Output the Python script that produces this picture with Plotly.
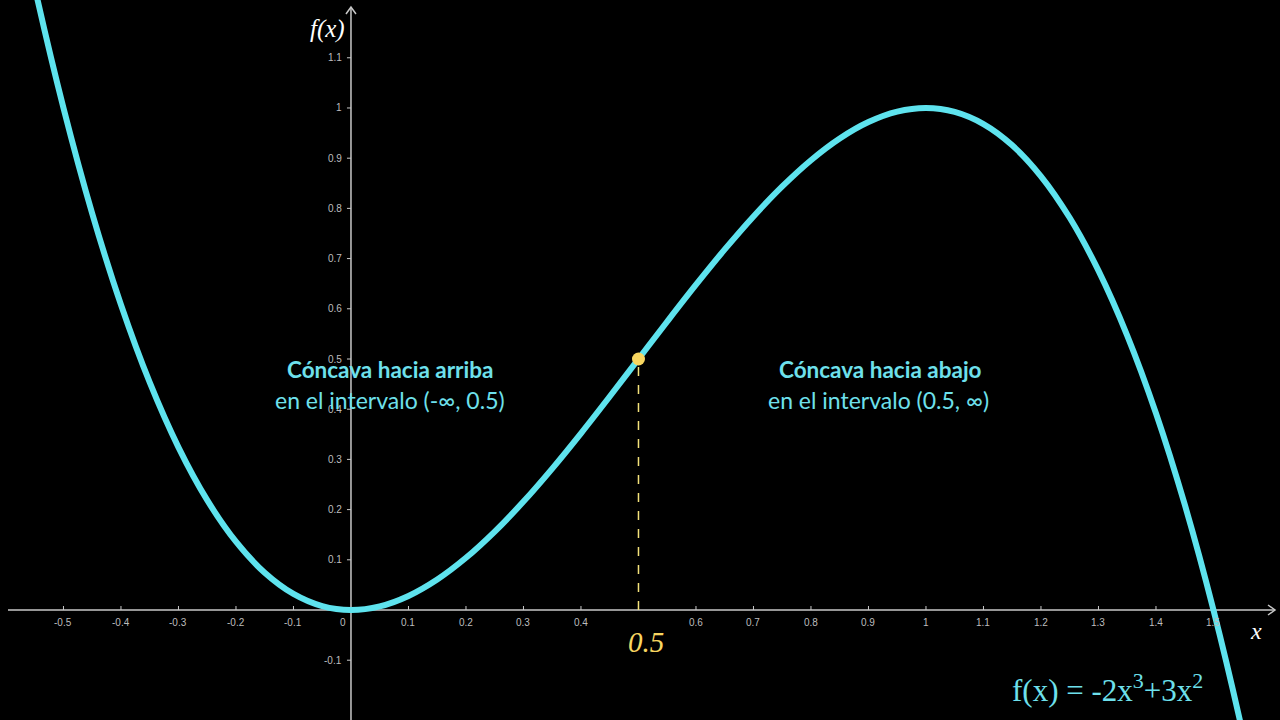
import plotly.graph_objects as go

# Curve points
curve_x = [-0.6, -0.55, -0.5, -0.45, -0.4, -0.35, -0.3, -0.25, -0.2, -0.15, -0.1, -0.05,
           0.0, 0.05, 0.1, 0.15, 0.2, 0.25, 0.3, 0.35, 0.4, 0.45, 0.5, 0.55, 0.6, 0.65,
           0.7, 0.75, 0.8, 0.85, 0.9, 0.95, 1.0, 1.05, 1.1, 1.15, 1.2, 1.25, 1.3, 1.35,
           1.4, 1.45, 1.5, 1.55, 1.6, 1.65]
curve_y = [1.512, 1.24025, 1.0, 0.78975, 0.608, 0.45325, 0.324, 0.21875, 0.136, 0.07425,
           0.032, 0.00775, 0.0, 0.00725, 0.028, 0.06075, 0.104, 0.15625, 0.216, 0.28175,
           0.352, 0.42525, 0.5, 0.57475, 0.648, 0.71825, 0.784, 0.84375, 0.896, 0.93925,
           0.972, 0.99275, 1.0, 0.99225, 0.968, 0.92575, 0.864, 0.78125, 0.676, 0.54675,
           0.392, 0.21025, 0.0, -0.24025, -0.512, -0.81675]

inflection_x = [0.5]
inflection_y = [0.5]

x_ticks = [-0.5, -0.4, -0.3, -0.2, -0.1, 0.1, 0.2, 0.3, 0.4, 0.5, 0.6, 0.7, 0.8, 0.9,
           1.0, 1.1, 1.2, 1.3, 1.4, 1.5]
# the 0.5 tick label is replaced by the large "0.5" marker label in the picture
x_tick_labels = ["-0.5", "-0.4", "-0.3", "-0.2", "-0.1", "0.1", "0.2", "0.3", "0.4", "",
                 "0.6", "0.7", "0.8", "0.9", "1", "1.1", "1.2", "1.3", "1.4", "1.5"]
y_ticks = [-0.1, 0.1, 0.2, 0.3, 0.4, 0.5, 0.6, 0.7, 0.8, 0.9, 1.0, 1.1]
y_tick_labels = ["-0.1", "0.1", "0.2", "0.3", "0.4", "0.5", "0.6", "0.7", "0.8", "0.9",
                 "1", "1.1"]

X_RANGE = [-0.6104, 1.6157]
Y_RANGE = [-0.2191, 1.2151]
AXIS_X_START, AXIS_X_END = -0.5965, 1.607
AXIS_Y_START, AXIS_Y_END = Y_RANGE[0], 1.2012

AXIS_COLOR = "#c8c8c8"
CURVE_COLOR = "#5ee3ee"
TEXT_CYAN = "#6ee0ec"
YELLOW = "#f8d660"

fig = go.Figure()

fig.add_trace(go.Scatter(
    x=curve_x, y=curve_y, mode="lines", line=dict(color=CURVE_COLOR, width=6, shape="spline"),
    hoverinfo="skip", showlegend=False))

# dashed line from inflection point to x-axis
fig.add_trace(go.Scatter(
    x=[inflection_x[0], inflection_x[0]], y=[0, inflection_y[0]], mode="lines",
    line=dict(color="#f4e27a", width=1.5, dash="dash"), hoverinfo="skip", showlegend=False))

fig.add_trace(go.Scatter(
    x=inflection_x, y=inflection_y, mode="markers",
    marker=dict(color=YELLOW, size=13, line=dict(width=0)), hoverinfo="skip", showlegend=False))

shapes = []
# axes
shapes.append(dict(type="line", xref="x", yref="y", x0=AXIS_X_START, x1=AXIS_X_END, y0=0, y1=0,
                   line=dict(color=AXIS_COLOR, width=1.5), layer="below"))
shapes.append(dict(type="line", xref="x", yref="y", x0=0, x1=0, y0=AXIS_Y_START, y1=AXIS_Y_END,
                   line=dict(color=AXIS_COLOR, width=1.5), layer="below"))
# arrowheads
shapes.append(dict(type="path", xref="x", yref="y", xsizemode="pixel", ysizemode="pixel",
                   xanchor=AXIS_X_END, yanchor=0, path="M -7 5 L 0 0 L -7 -5",
                   line=dict(color=AXIS_COLOR, width=1.5)))
shapes.append(dict(type="path", xref="x", yref="y", xsizemode="pixel", ysizemode="pixel",
                   xanchor=0, yanchor=AXIS_Y_END, path="M -5 -7 L 0 0 L 5 -7",
                   line=dict(color=AXIS_COLOR, width=1.5)))
# tick marks
for t in x_ticks:
    shapes.append(dict(type="line", xref="x", yref="y", xsizemode="pixel", ysizemode="pixel",
                       xanchor=t, yanchor=0, x0=0, x1=0, y0=0, y1=4,
                       line=dict(color=AXIS_COLOR, width=1), layer="below"))
for t in y_ticks:
    shapes.append(dict(type="line", xref="x", yref="y", xsizemode="pixel", ysizemode="pixel",
                       xanchor=0, yanchor=t, x0=-4, x1=0, y0=0, y1=0,
                       line=dict(color=AXIS_COLOR, width=1), layer="below"))

annotations = []
tick_font = dict(family="Liberation Sans, Arial", size=10, color="#bdbdbd")
for t, lab in zip(x_ticks, x_tick_labels):
    if lab:
        annotations.append(dict(x=t, y=0, xref="x", yref="y", text=lab, showarrow=False,
                                yshift=-12, font=tick_font))
annotations.append(dict(x=0, y=0, xref="x", yref="y", text="0", showarrow=False,
                        xshift=-8, yshift=-12, font=tick_font))
for t, lab in zip(y_ticks, y_tick_labels):
    annotations.append(dict(x=0, y=t, xref="x", yref="y", text=lab, showarrow=False,
                            xanchor="right", xshift=-7, font=tick_font))

serif_it = "Liberation Serif, Times New Roman, serif"
annotations.append(dict(x=0, y=AXIS_Y_END, xref="x", yref="y", text="<i>f(x)</i>",
                        showarrow=False, xanchor="right", xshift=-4, yshift=-22,
                        font=dict(family=serif_it, size=25, color="white")))
annotations.append(dict(x=AXIS_X_END, y=0, xref="x", yref="y", text="<i>x</i>",
                        showarrow=False, xshift=-19, yshift=-21,
                        font=dict(family=serif_it, size=24, color="white")))
annotations.append(dict(x=inflection_x[0], y=0, xref="x", yref="y", text="<i>0.5</i>",
                        showarrow=False, xshift=8, yshift=-32,
                        font=dict(family=serif_it, size=29, color=YELLOW)))

label_font = "Lato, Open Sans, sans-serif"
pixel_labels = [
    (390, 370, "<b>Cóncava hacia arriba</b>", 22.5),
    (390, 400, "en el intervalo (-∞, 0.5)", 23),
    (880, 370, "<b>Cóncava hacia abajo</b>", 22.5),
    (878, 400, "en el intervalo (0.5, ∞)", 23),
]
for px, py, txt, sz in pixel_labels:
    annotations.append(dict(x=px / 1280, y=1 - py / 720, xref="paper", yref="paper", text=txt,
                            xanchor="center", yanchor="middle", showarrow=False,
                            font=dict(family=label_font, size=sz, color=TEXT_CYAN)))
sup = "<sup><span style='font-size:22px'>{}</span></sup>"
annotations.append(dict(x=1107 / 1280, y=1 - 688 / 720, xref="paper", yref="paper",
                        xanchor="center", yanchor="middle",
                        text="f(x) = -2x" + sup.format("3") + "+3x" + sup.format("2"),
                        showarrow=False,
                        font=dict(family=serif_it, size=31, color=TEXT_CYAN)))

fig.update_layout(
    width=1280, height=720, margin=dict(l=0, r=0, t=0, b=0),
    paper_bgcolor="black", plot_bgcolor="black",
    xaxis=dict(range=X_RANGE, visible=False, fixedrange=True),
    yaxis=dict(range=Y_RANGE, visible=False, fixedrange=True),
    shapes=shapes, annotations=annotations, showlegend=False)

fig.write_html("out.html", config={"displayModeBar": False})
